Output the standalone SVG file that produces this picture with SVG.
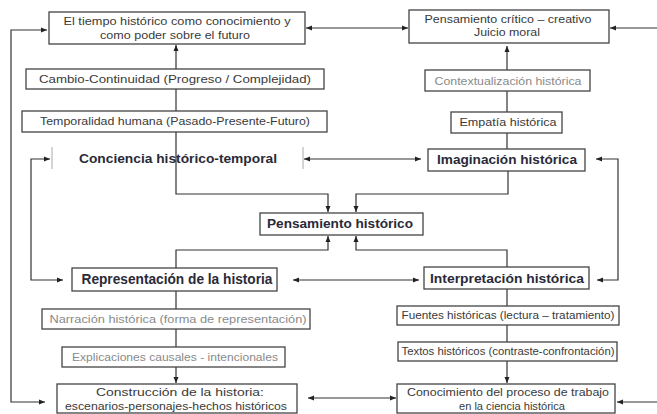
<svg xmlns="http://www.w3.org/2000/svg" width="657" height="414" viewBox="0 0 657 414">
<defs>
<marker id="ah" markerUnits="userSpaceOnUse" markerWidth="7" markerHeight="6" refX="6" refY="3" orient="auto-start-reverse">
<path d="M0,0.5 L6,3 L0,5.5 Z" fill="#222"/>
</marker>
<style>
.box{fill:#fff;stroke:#444;stroke-width:1.3}
.t{font-family:"Liberation Sans",Arial,sans-serif;font-size:11.5px;fill:#3a3a3a;text-anchor:middle}
.f{fill:#8a8a8a}
.b{font-weight:bold;font-size:12.5px;fill:#2a2a38}
.c{fill:none;stroke:#333;stroke-width:1.2}
.a{marker-end:url(#ah)}
.d{marker-start:url(#ah);marker-end:url(#ah)}
.tick{stroke:#aaa;stroke-width:1}
</style>
</defs>
<rect width="657" height="414" fill="#fff"/>
<g id="connectors">
<path class="c a" d="M176,111 V45"/>
<path class="c a" d="M176,132 V194 H328 V212"/>
<path class="c a" d="M508,171 V194 H356 V212"/>
<path class="c a" d="M176,268 V250 H328 V236"/>
<path class="c a" d="M507,267 V250 H356 V236"/>
<path class="c a" d="M507,149 V46"/>
<path class="c a" d="M176,291 V383"/>
<path class="c a" d="M507,289 V383"/>
<path class="c d" d="M306,28 H408"/>
<path class="c a" d="M657,28 H610"/>
<path class="c d" d="M47,30 H11 V402 H45"/>
<path class="c d" d="M50,159 H31 V280 H63"/>
<path class="c d" d="M304,159 H421"/>
<path class="c d" d="M596,159 H618 V280 H597"/>
<path class="c d" d="M293,280 H419"/>
<path class="c d" d="M308,398 H396"/>
<path class="c a" d="M657,402 H617"/>
<line class="tick" x1="52" y1="147" x2="52" y2="169"/>
<line class="tick" x1="303" y1="147" x2="303" y2="169"/>
</g>
<g id="n-tiempo">
<rect class="box" x="49" y="12" width="256" height="32"/>
<text class="t" x="177" y="25" textLength="227" lengthAdjust="spacingAndGlyphs">El tiempo histórico como conocimiento y</text>
<text class="t" x="175" y="39" textLength="150" lengthAdjust="spacingAndGlyphs">como poder sobre el futuro</text>
</g>
<g id="n-cambio">
<rect class="box" x="26" y="69" width="298" height="20"/>
<text class="t" x="175" y="83" textLength="272" lengthAdjust="spacingAndGlyphs">Cambio-Continuidad (Progreso / Complejidad)</text>
</g>
<g id="n-temporalidad">
<rect class="box" x="22" y="111" width="305" height="21"/>
<text class="t" x="175" y="125" textLength="270" lengthAdjust="spacingAndGlyphs">Temporalidad humana (Pasado-Presente-Futuro)</text>
</g>
<g id="n-conciencia">
<text class="t b" x="178" y="163" textLength="198" lengthAdjust="spacingAndGlyphs">Conciencia histórico-temporal</text>
</g>
<g id="n-pensamiento">
<rect class="box" x="260" y="213" width="163" height="22"/>
<text class="t b" x="340" y="228" textLength="146" lengthAdjust="spacingAndGlyphs">Pensamiento histórico</text>
</g>
<g id="n-representacion">
<rect class="box" x="72" y="268" width="205" height="23"/>
<text class="t b" x="177" y="284" style="font-size:14px" textLength="191" lengthAdjust="spacingAndGlyphs">Representación de la historia</text>
</g>
<g id="n-narracion">
<rect class="box" x="42" y="309" width="268" height="20"/>
<text class="t f" x="178" y="323" textLength="257" lengthAdjust="spacingAndGlyphs">Narración histórica (forma de representación)</text>
</g>
<g id="n-explicaciones">
<rect class="box" x="62" y="347" width="223" height="20"/>
<text class="t f" x="175" y="361" textLength="206" lengthAdjust="spacingAndGlyphs">Explicaciones causales - intencionales</text>
</g>
<g id="n-construccion">
<rect class="box" x="57" y="384" width="240" height="29"/>
<text class="t" x="180" y="396" textLength="168" lengthAdjust="spacingAndGlyphs">Construcción de la historia:</text>
<text class="t" x="176" y="410" textLength="222" lengthAdjust="spacingAndGlyphs">escenarios-personajes-hechos históricos</text>
</g>
<g id="n-critico">
<rect class="box" x="409" y="10" width="200" height="33"/>
<text class="t" x="508" y="23" textLength="167" lengthAdjust="spacingAndGlyphs">Pensamiento crítico – creativo</text>
<text class="t" x="507" y="36" textLength="66" lengthAdjust="spacingAndGlyphs">Juicio moral</text>
</g>
<g id="n-contextualizacion">
<rect class="box" x="425" y="70" width="165" height="21"/>
<text class="t f" x="508" y="85" textLength="147" lengthAdjust="spacingAndGlyphs">Contextualización histórica</text>
</g>
<g id="n-empatia">
<rect class="box" x="451" y="112" width="111" height="21"/>
<text class="t" x="508" y="126" textLength="97" lengthAdjust="spacingAndGlyphs">Empatía histórica</text>
</g>
<g id="n-imaginacion">
<rect class="box" x="428" y="149" width="157" height="22"/>
<text class="t b" x="507" y="164" textLength="140" lengthAdjust="spacingAndGlyphs">Imaginación histórica</text>
</g>
<g id="n-interpretacion">
<rect class="box" x="424" y="267" width="165" height="22"/>
<text class="t b" x="507" y="283" textLength="154" lengthAdjust="spacingAndGlyphs">Interpretación histórica</text>
</g>
<g id="n-fuentes">
<rect class="box" x="397" y="306" width="222" height="19"/>
<text class="t" x="508" y="319" textLength="213" lengthAdjust="spacingAndGlyphs">Fuentes históricas (lectura – tratamiento)</text>
</g>
<g id="n-textos">
<rect class="box" x="398" y="342" width="219" height="19"/>
<text class="t" x="508" y="355" textLength="213" lengthAdjust="spacingAndGlyphs">Textos históricos (contraste-confrontación)</text>
</g>
<g id="n-conocimiento">
<rect class="box" x="397" y="384" width="218" height="29"/>
<text class="t" x="508" y="396" textLength="202" lengthAdjust="spacingAndGlyphs">Conocimiento del proceso de trabajo</text>
<text class="t" x="512" y="410" textLength="106" lengthAdjust="spacingAndGlyphs">en la ciencia histórica</text>
</g>
</svg>
